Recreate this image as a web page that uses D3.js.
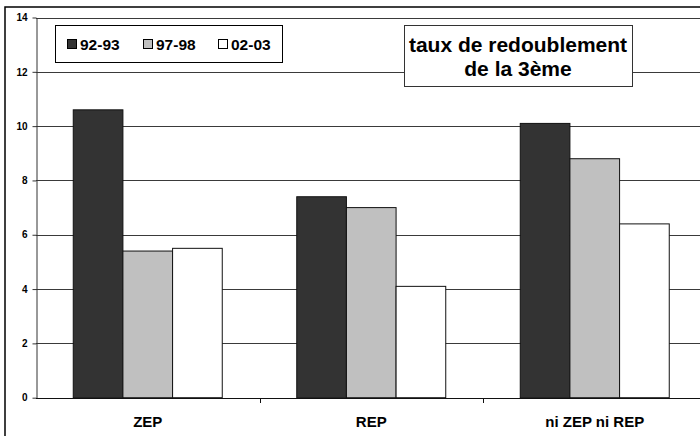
<!DOCTYPE html>
<html>
<head>
<meta charset="utf-8">
<script src="https://cdn.jsdelivr.net/npm/d3@7"></script>
<style>
  html, body { margin: 0; padding: 0; background: #fff; }
  svg { display: block; font-family: "Liberation Sans", Arial, sans-serif; }
</style>
</head>
<body>
<div id="chart"></div>
<script>
// data
const categories = ["ZEP", "REP", "ni ZEP ni REP"];
const seriesNames = ["92-93", "97-98", "02-03"];
const seriesColors = ["#333333", "#c0c0c0", "#ffffff"];
const values9293 = [10.6, 7.4, 10.1];
const values9798 = [5.4, 7.0, 8.8];
const values0203 = [5.5, 4.1, 6.4];
const yTicks = [0, 2, 4, 6, 8, 10, 12, 14];
const titleLines = ["taux de redoublement", "de la 3ème"];

const seriesValues = [values9293, values9798, values0203];

const W = 700, H = 436;
// plot area runs off the right edge of the picture, like the source
const plot = { left: 36, right: 706.5, top: 17.5, bottom: 397.7 };

const svg = d3.select('#chart').append('svg')
    .attr('width', W)
    .attr('height', H);

// outer frame (right and bottom sides are cropped away)
svg.append('rect')
    .attr('x', 5).attr('y', 7)
    .attr('width', 720).attr('height', 460)
    .attr('fill', '#fff')
    .attr('stroke', '#000')
    .attr('stroke-width', 1.5);

const x0 = d3.scaleBand()
    .domain(categories)
    .range([plot.left, plot.right])
    .paddingInner(1 / 3)
    .paddingOuter(1 / 6);

const x1 = d3.scaleBand()
    .domain(seriesNames)
    .range([0, x0.bandwidth()]);

const y = d3.scaleLinear()
    .domain([0, 14])
    .range([plot.bottom, plot.top]);

// gridlines
svg.append('g')
    .selectAll('line')
    .data(yTicks.filter(d => d > 0))
    .join('line')
    .attr('x1', plot.left)
    .attr('x2', plot.right)
    .attr('y1', d => Math.round(y(d)) + 0.5)
    .attr('y2', d => Math.round(y(d)) + 0.5)
    .attr('stroke', '#3a3a3a')
    .attr('stroke-width', 1);

// bars
const rows = categories.map((c, i) => ({
    cat: c,
    vals: seriesNames.map((s, j) => ({ s, j, v: seriesValues[j][i] }))
}));

svg.append('g')
    .selectAll('g')
    .data(rows)
    .join('g')
    .attr('transform', d => `translate(${x0(d.cat)},0)`)
    .selectAll('rect')
    .data(d => d.vals)
    .join('rect')
    .attr('x', d => x1(d.s))
    .attr('y', d => y(d.v))
    .attr('width', x1.bandwidth())
    .attr('height', d => y(0) - y(d.v))
    .attr('fill', d => seriesColors[d.j])
    .attr('stroke', '#111')
    .attr('stroke-width', 1);

// y axis
const yAxis = svg.append('g')
    .attr('transform', `translate(${plot.left + 0.5},0)`)
    .call(d3.axisLeft(y).tickValues(yTicks).tickSize(4).tickPadding(5).tickSizeOuter(0));
yAxis.select('.domain').attr('stroke', '#333');
yAxis.selectAll('.tick line').attr('stroke', '#333');
yAxis.selectAll('text')
    .attr('font-size', 10)
    .attr('font-weight', 'bold')
    .attr('font-family', '"Liberation Sans", Arial, sans-serif')
    .attr('fill', '#000');

// x axis line + category boundary ticks
const step = x0.step();
const boundaries = d3.range(categories.length + 1).map(i => plot.left + i * step);
svg.append('line')
    .attr('x1', plot.left).attr('x2', plot.right)
    .attr('y1', Math.round(y(0)) + 0.5).attr('y2', Math.round(y(0)) + 0.5)
    .attr('stroke', '#111');
svg.append('g')
    .selectAll('line')
    .data(boundaries.slice(1))
    .join('line')
    .attr('x1', d => Math.round(d) + 0.5)
    .attr('x2', d => Math.round(d) + 0.5)
    .attr('y1', Math.round(y(0)))
    .attr('y2', Math.round(y(0)) + 5)
    .attr('stroke', '#111');

svg.append('g')
    .selectAll('text')
    .data(categories)
    .join('text')
    .attr('x', d => x0(d) + x0.bandwidth() / 2)
    .attr('y', 427)
    .attr('text-anchor', 'middle')
    .attr('font-size', 15)
    .attr('font-weight', 'bold')
    .text(d => d);

// legend
const legend = svg.append('g');
legend.append('rect')
    .attr('x', 55.5).attr('y', 25.5)
    .attr('width', 227).attr('height', 37)
    .attr('fill', '#fff')
    .attr('stroke', '#000');
const legendX = [67, 143, 218];
const items = legend.selectAll('g.item')
    .data(seriesNames)
    .join('g')
    .attr('class', 'item')
    .attr('transform', (d, i) => `translate(${legendX[i]},0)`);
items.append('rect')
    .attr('x', 0.5).attr('y', 39.5)
    .attr('width', 9).attr('height', 9)
    .attr('fill', (d, i) => seriesColors[i])
    .attr('stroke', '#000');
items.append('text')
    .attr('x', 13)
    .attr('y', 49.5)
    .attr('font-size', 15.5)
    .attr('font-weight', 'bold')
    .text(d => d);

// title box
const title = svg.append('g');
title.append('rect')
    .attr('x', 404.5).attr('y', 25.5)
    .attr('width', 228).attr('height', 61)
    .attr('fill', '#fff')
    .attr('stroke', '#333');
title.selectAll('text')
    .data(titleLines)
    .join('text')
    .attr('x', 518)
    .attr('y', (d, i) => 52 + i * 23.5)
    .attr('text-anchor', 'middle')
    .attr('font-size', 21)
    .attr('font-weight', 'bold')
    .text(d => d);
</script>
</body>
</html>
